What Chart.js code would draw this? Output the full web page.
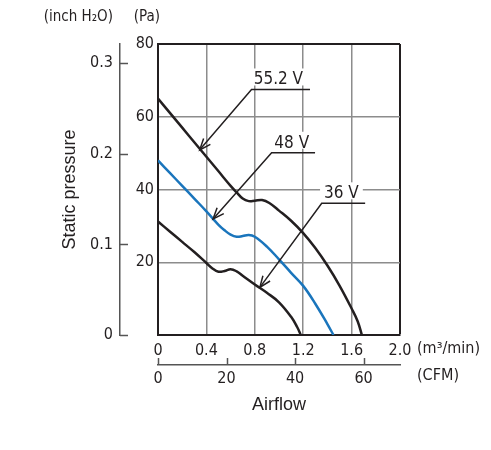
<!DOCTYPE html>
<html>
<head>
<meta charset="utf-8">
<script src="https://cdn.jsdelivr.net/npm/chart.js@4.4.1/dist/chart.umd.min.js"></script>
<style>
  html, body { margin: 0; padding: 0; background: #fff; }
  #c { display: block; }
</style>
</head>
<body>
<canvas id="c" width="491" height="450"></canvas>
<script>
// Axis ticks
const M3_TICKS = [0, 0.4, 0.8, 1.2, 1.6, 2.0];
const M3_LABELS = ['0', '0.4', '0.8', '1.2', '1.6', '2.0'];
const PA_TICKS = [0, 20, 40, 60, 80];
const PA_LABELS = ['', '20', '40', '60', '80'];
const INCH_TICKS = [0, 0.1, 0.2, 0.3];
const INCH_LABELS = ['0', '0.1', '0.2', '0.3'];
const CFM_TICKS = [0, 20, 40, 60];
const CFM_LABELS = ['0', '20', '40', '60'];
const PA_PER_INCH = 249.089;
const M3_PER_CFM = 0.0283168;

// P-Q curves, airflow in m3/min, static pressure in Pa
const FLOW_552 = [0, 0.1, 0.2, 0.3, 0.4, 0.5, 0.6, 0.65, 0.7, 0.75, 0.8, 0.86, 0.92, 1.0, 1.1, 1.2, 1.3, 1.4, 1.5, 1.6, 1.65, 1.685];
const PRES_552 = [65, 61, 57, 53, 49, 45, 41, 39.2, 37.5, 36.8, 36.9, 37.1, 36.3, 34.2, 31.4, 28.0, 23.9, 19.1, 13.6, 7.3, 3.8, 0];
const FLOW_48 = [0, 0.1, 0.2, 0.3, 0.4, 0.5, 0.55, 0.6, 0.65, 0.7, 0.75, 0.8, 0.9, 1.0, 1.1, 1.2, 1.3, 1.4, 1.45];
const PRES_48 = [48, 44.5, 41, 37.5, 34.0, 30.3, 28.8, 27.6, 27.0, 27.2, 27.5, 27.0, 24.3, 20.8, 17.1, 13.5, 8.6, 3.0, 0];
const FLOW_36 = [0, 0.1, 0.2, 0.3, 0.4, 0.45, 0.5, 0.55, 0.6, 0.65, 0.7, 0.8, 0.9, 1.0, 1.1, 1.15, 1.18];
const PRES_36 = [31.2, 28.4, 25.6, 22.8, 19.8, 18.3, 17.4, 17.6, 18.1, 17.5, 16.3, 13.9, 11.6, 9.0, 5.0, 2.2, 0];

const SERIES_NAMES = ['55.2 V', '48 V', '36 V'];

// callouts: arrow tip on the curve, elbow, end of the underline (data units)
const CALLOUTS = [
  { text: '55.2 V', tip: [0.345, 50.9], elbow: [0.773, 67.5], end: 1.256, textX: 0.995 },
  { text: '48 V',   tip: [0.455, 31.9], elbow: [0.939, 50.1], end: 1.298, textX: 1.105 },
  { text: '36 V',   tip: [0.842, 13.1], elbow: [1.353, 36.2], end: 1.712, textX: 1.516 }
];

const INK = '#231f20';
const BLUE = '#1a75bc';
const GRID = '#8c8c8c';
const AXIS = '#555555';
const NARROW = "'Liberation Sans Narrow', 'DejaVu Sans Condensed', 'Arial Narrow', sans-serif";
const REGULAR = "'Liberation Sans', Arial, sans-serif";

function zip(xs, ys) {
  return xs.map((x, i) => ({ x: x, y: ys[i] }));
}

function ticksFrom(list) {
  return scale => { scale.ticks = list.map(v => ({ value: v })); };
}

const extras = {
  id: 'extras',
  afterDatasetsDraw(chart) {
    const { ctx } = chart;
    const { x, y } = chart.scales;
    ctx.save();
    ctx.strokeStyle = INK;
    ctx.fillStyle = INK;
    ctx.lineWidth = 1.5;
    ctx.font = '17px ' + NARROW;
    CALLOUTS.forEach(c => {
      const tx = x.getPixelForValue(c.tip[0]), ty = y.getPixelForValue(c.tip[1]);
      const ex = x.getPixelForValue(c.elbow[0]), ey = y.getPixelForValue(c.elbow[1]);
      const endX = x.getPixelForValue(c.end);
      // text with white box
      const w = ctx.measureText(c.text).width;
      const cx = x.getPixelForValue(c.textX);
      ctx.fillStyle = '#fff';
      ctx.fillRect(cx - w / 2 - 4, ey - 21, w + 8, 17);
      ctx.fillStyle = INK;
      ctx.textAlign = 'center';
      ctx.textBaseline = 'alphabetic';
      ctx.fillText(c.text, cx, ey - 5);
      // leader
      ctx.beginPath();
      ctx.moveTo(endX, ey);
      ctx.lineTo(ex, ey);
      ctx.lineTo(tx, ty);
      ctx.stroke();
      // open arrow head
      const ang = Math.atan2(ey - ty, ex - tx);
      const len = 12, spread = 0.38;
      ctx.beginPath();
      ctx.moveTo(tx + len * Math.cos(ang - spread), ty + len * Math.sin(ang - spread));
      ctx.lineTo(tx, ty);
      ctx.lineTo(tx + len * Math.cos(ang + spread), ty + len * Math.sin(ang + spread));
      ctx.stroke();
    });
    ctx.restore();
  },
  afterDraw(chart) {
    const { ctx } = chart;
    const { x, y, xCfm, yInch } = chart.scales;
    ctx.save();
    ctx.strokeStyle = AXIS;
    ctx.lineWidth = 1.5;
    INCH_TICKS.forEach(v => {
      const py = Math.round(yInch.getPixelForValue(v)) + 0.5;
      ctx.beginPath();
      ctx.moveTo(yInch.right, py);
      ctx.lineTo(yInch.right + 8, py);
      ctx.stroke();
    });
    CFM_TICKS.forEach(v => {
      const px = Math.round(xCfm.getPixelForValue(v)) + 0.5;
      ctx.beginPath();
      ctx.moveTo(px, xCfm.top);
      ctx.lineTo(px, xCfm.top - 7);
      ctx.stroke();
    });
    ctx.fillStyle = INK;
    ctx.font = '16px ' + NARROW;
    ctx.textBaseline = 'middle';
    ctx.textAlign = 'left';
    ctx.fillText('(m\u00b3/min)', x.right + 17, x.top + 14);
    ctx.fillText('(CFM)', x.right + 17, xCfm.top + 11);
    ctx.font = '15px ' + NARROW;
    ctx.textAlign = 'right';
    ctx.fillText('(inch H\u2082O)', yInch.right - 7, 17);
    ctx.fillText('(Pa)', y.right + 2, 17);
    ctx.restore();
  }
};

const edgeColor = (edge) => ctx => (ctx.tick && ctx.tick.value === edge ? INK : GRID);
const edgeWidth = (edge) => ctx => (ctx.tick && ctx.tick.value === edge ? 2 : 1.5);

new Chart(document.getElementById('c'), {
  type: 'line',
  data: {
    datasets: [
      { label: SERIES_NAMES[0], data: zip(FLOW_552, PRES_552), borderColor: INK },
      { label: SERIES_NAMES[1], data: zip(FLOW_48, PRES_48), borderColor: BLUE },
      { label: SERIES_NAMES[2], data: zip(FLOW_36, PRES_36), borderColor: INK }
    ]
  },
  options: {
    responsive: false,
    animation: false,
    devicePixelRatio: 1,
    layout: { padding: { left: 56, right: 91, top: 44, bottom: 25 } },
    datasets: {
      line: { borderWidth: 2.5, pointRadius: 0, fill: false, tension: 0.4 }
    },
    plugins: { legend: { display: false }, tooltip: { enabled: false } },
    scales: {
      x: {
        type: 'linear', position: 'bottom', weight: 0, min: 0, max: 2,
        afterBuildTicks: ticksFrom(M3_TICKS),
        afterFit: s => { s.height = 30; },
        ticks: { callback: v => M3_LABELS[M3_TICKS.indexOf(v)], padding: 6, color: INK, font: { size: 16, family: NARROW }, maxRotation: 0 },
        grid: { color: edgeColor(2), lineWidth: edgeWidth(2), drawTicks: false },
        border: { color: INK, width: 2 }
      },
      xCfm: {
        type: 'linear', position: 'bottom', weight: 1, min: 0, max: 2 / M3_PER_CFM,
        afterBuildTicks: ticksFrom(CFM_TICKS),
        afterFit: s => { s.height = 60; },
        ticks: { callback: v => CFM_LABELS[CFM_TICKS.indexOf(v)], padding: 4, color: INK, font: { size: 16, family: NARROW }, maxRotation: 0 },
        grid: { display: false, drawTicks: false },
        border: { display: true, color: AXIS, width: 1.5 },
        title: { display: true, text: 'Airflow', color: INK, font: { size: 18, family: REGULAR }, padding: { top: 0, bottom: 9 } }
      },
      y: {
        type: 'linear', position: 'left', weight: 0, min: 0, max: 80,
        afterBuildTicks: ticksFrom(PA_TICKS),
        afterFit: s => { s.width = 38; },
        ticks: { callback: v => PA_LABELS[PA_TICKS.indexOf(v)], padding: 4, color: INK, font: { size: 16, family: NARROW } },
        grid: { color: edgeColor(80), lineWidth: edgeWidth(80), drawTicks: false },
        border: { color: INK, width: 2 }
      },
      yInch: {
        type: 'linear', position: 'left', weight: 1, min: 0, max: 80 / PA_PER_INCH,
        afterBuildTicks: ticksFrom(INCH_TICKS),
        afterFit: s => { s.width = 64; },
        ticks: { callback: v => INCH_LABELS[INCH_TICKS.indexOf(v)], padding: 7, color: INK, font: { size: 16, family: NARROW } },
        grid: { display: false, drawTicks: false },
        border: { display: true, color: AXIS, width: 1.5 },
        title: { display: true, text: 'Static pressure', color: INK, font: { size: 18, family: REGULAR }, padding: { top: 3, bottom: 0 } }
      }
    }
  },
  plugins: [extras]
});
</script>
</body>
</html>
